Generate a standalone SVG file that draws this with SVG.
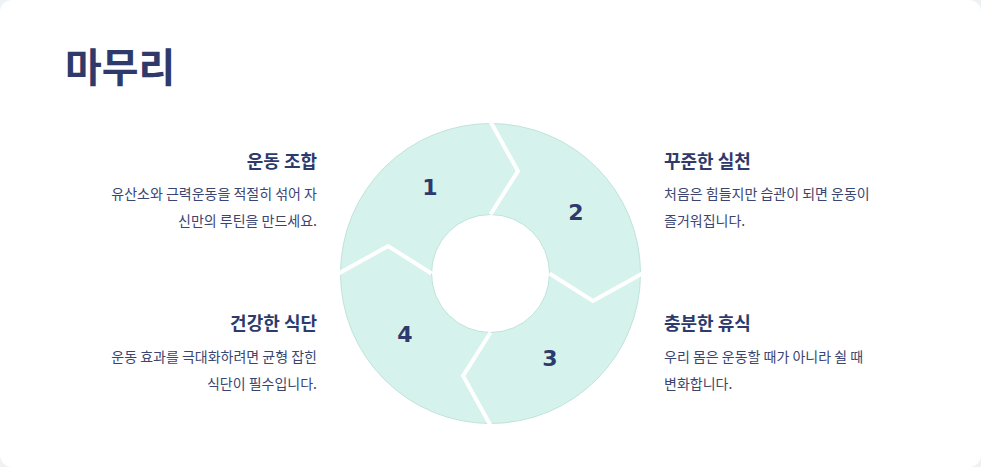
<svg xmlns="http://www.w3.org/2000/svg" width="981" height="467" viewBox="0 0 981 467">
<style>
.seg{fill:#d5f3ec;stroke:#bfe3d9;stroke-width:1}
.gap{fill:none;stroke:#fff;stroke-width:4;stroke-linejoin:miter}
.num{font-family:"DejaVu Sans",sans-serif;font-weight:bold;font-size:22px;fill:#2e3a6b;text-anchor:middle}
.h{font-family:"Noto Sans CJK KR",sans-serif;font-weight:bold;font-size:18px;fill:#2e3a6b}
.b{font-family:"Noto Sans CJK KR",sans-serif;font-size:14px;fill:#3b4572}
.r{text-anchor:end}
</style>
<rect width="981" height="467" fill="#eef2f5"/>
<rect width="981" height="467" rx="12" fill="#fff"/>
<text x="65" y="82" font-family="Noto Sans CJK KR,sans-serif" font-weight="bold" font-size="40" fill="#2e3a6b">마무리</text>
<g id="seg1"><path class="seg" d="M340.5,273.5 A150,150 0 0 1 490.5,123.5 L517.9,171.1 L490.5,214.5 A59,59 0 0 0 431.5,273.5 L388.1,246.1 Z"/><text class="num" x="430" y="195">1</text></g>
<g id="seg2"><path class="seg" d="M490.5,123.5 A150,150 0 0 1 640.5,273.5 L592.9,300.9 L549.5,273.5 A59,59 0 0 0 490.5,214.5 L517.9,171.1 Z"/><text class="num" x="576" y="220">2</text></g>
<g id="seg3"><path class="seg" d="M640.5,273.5 A150,150 0 0 1 490.5,423.5 L463.1,375.9 L490.5,332.5 A59,59 0 0 0 549.5,273.5 L592.9,300.9 Z"/><text class="num" x="550" y="366">3</text></g>
<g id="seg4"><path class="seg" d="M490.5,423.5 A150,150 0 0 1 340.5,273.5 L388.1,246.1 L431.5,273.5 A59,59 0 0 0 490.5,332.5 L463.1,375.9 Z"/><text class="num" x="405" y="342">4</text></g>
<g id="connectors">
<polyline class="gap" points="488.5,118 517.9,171.1 490.5,214.5"/>
<polyline class="gap" points="646,271.5 592.9,300.9 549.5,273.5"/>
<polyline class="gap" points="492.5,429 463.1,375.9 490.5,332.5"/>
<polyline class="gap" points="335,275.5 388.1,246.1 431.5,273.5"/>
</g>
<g id="t1"><text class="h r" x="317" y="168">운동 조합</text><text class="b r" x="317" y="199">유산소와 근력운동을 적절히 섞어 자</text><text class="b r" x="317" y="226">신만의 루틴을 만드세요.</text></g>
<g id="t2"><text class="h" x="664" y="168">꾸준한 실천</text><text class="b" x="664" y="199">처음은 힘들지만 습관이 되면 운동이</text><text class="b" x="664" y="226">즐거워집니다.</text></g>
<g id="t3"><text class="h" x="664" y="330">충분한 휴식</text><text class="b" x="664" y="362">우리 몸은 운동할 때가 아니라 쉴 때</text><text class="b" x="664" y="389">변화합니다.</text></g>
<g id="t4"><text class="h r" x="317" y="330">건강한 식단</text><text class="b r" x="317" y="362">운동 효과를 극대화하려면 균형 잡힌</text><text class="b r" x="317" y="389">식단이 필수입니다.</text></g>
</svg>
